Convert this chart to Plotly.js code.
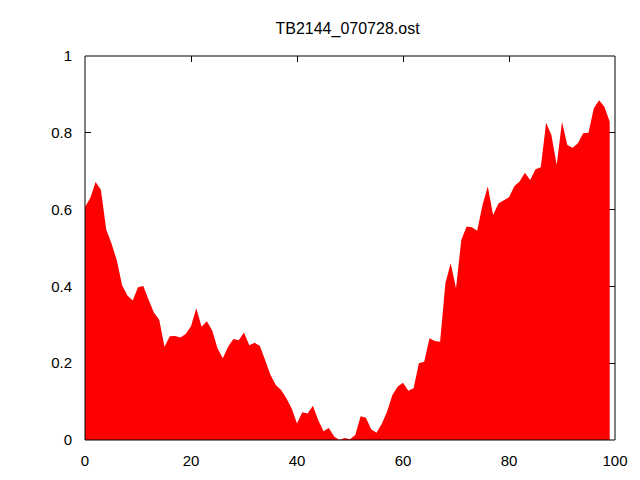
<!DOCTYPE html>
<html>
<head>
<meta charset="utf-8">
<script src="https://cdn.plot.ly/plotly-3.0.1.min.js"></script>
<style>html,body{margin:0;padding:0;background:#fff;}#chart{width:640px;height:480px;}</style>
</head>
<body>
<div id="chart"></div>
<script>
const titleText = "TB2144_070728.ost";
const xValues = [0,1,2,3,4,5,6,7,8,9,10,11,12,13,14,15,16,17,18,19,20,21,22,23,24,25,26,27,28,29,30,31,32,33,34,35,36,37,38,39,40,41,42,43,44,45,46,47,48,49,50,51,52,53,54,55,56,57,58,59,60,61,62,63,64,65,66,67,68,69,70,71,72,73,74,75,76,77,78,79,80,81,82,83,84,85,86,87,88,89,90,91,92,93,94,95,96,97,98,99];
const yValues = [0.607,0.63,0.672,0.652,0.548,0.512,0.468,0.403,0.376,0.363,
  0.398,0.401,0.365,0.332,0.313,0.243,0.27,0.271,0.267,0.276,
  0.296,0.343,0.295,0.309,0.285,0.239,0.213,0.243,0.263,0.26,
  0.28,0.247,0.253,0.245,0.208,0.169,0.143,0.13,0.109,0.082,
  0.043,0.072,0.069,0.089,0.052,0.023,0.031,0.009,0.0,0.005,
  0.002,0.013,0.062,0.058,0.028,0.019,0.042,0.074,0.117,0.139,
  0.149,0.128,0.135,0.2,0.204,0.265,0.258,0.256,0.408,0.46,
  0.395,0.521,0.556,0.554,0.545,0.612,0.66,0.586,0.616,0.625,
  0.632,0.661,0.673,0.696,0.677,0.705,0.71,0.826,0.794,0.716,
  0.829,0.768,0.761,0.773,0.799,0.8,0.864,0.885,0.868,0.829];
const xTicks = [0,20,40,60,80,100];
const yTicks = [0,0.2,0.4,0.6,0.8,1];
const yTickText = ["0","0.2","0.4","0.6","0.8","1"];

const font = {family: "Liberation Sans, Arial, sans-serif", size: 15, color: "#000"};
const titleFont = {family: "Liberation Sans, Arial, sans-serif", size: 16, color: "#000"};

const trace = {
  x: xValues, y: yValues, type: "scatter", mode: "lines",
  fill: "tozeroy", fillcolor: "#ff0000",
  line: {width: 0, color: "#ff0000"}, hoverinfo: "none", showlegend: false
};

const axisCommon = {
  showgrid: false, zeroline: false, showline: false,
  ticks: "inside", ticklen: 6, tickwidth: 1, tickcolor: "#000",
  mirror: "ticks", layer: "below traces", tickfont: font, fixedrange: true
};

const layout = {
  width: 640, height: 480,
  margin: {l: 85, r: 25, t: 56, b: 40, pad: 0},
  paper_bgcolor: "#fff", plot_bgcolor: "#fff",
  title: {text: titleText, font: titleFont, x: 0.543, xanchor: "center", xref: "container", y: 0.9406, yanchor: "middle", yref: "container"},
  xaxis: Object.assign({}, axisCommon, {range: [0, 100], tickmode: "array", tickvals: xTicks, ticklabelstandoff: 10}),
  yaxis: Object.assign({}, axisCommon, {range: [0, 1], tickmode: "array", tickvals: yTicks, ticktext: yTickText, ticklabelstandoff: 12}),
  shapes: [{type: "rect", xref: "paper", yref: "paper", x0: 0, y0: 0, x1: 1, y1: 1, line: {color: "#000", width: 1}, layer: "above"}]
};

Plotly.newPlot("chart", [trace], layout, {staticPlot: true, displayModeBar: false});
</script>
</body>
</html>
